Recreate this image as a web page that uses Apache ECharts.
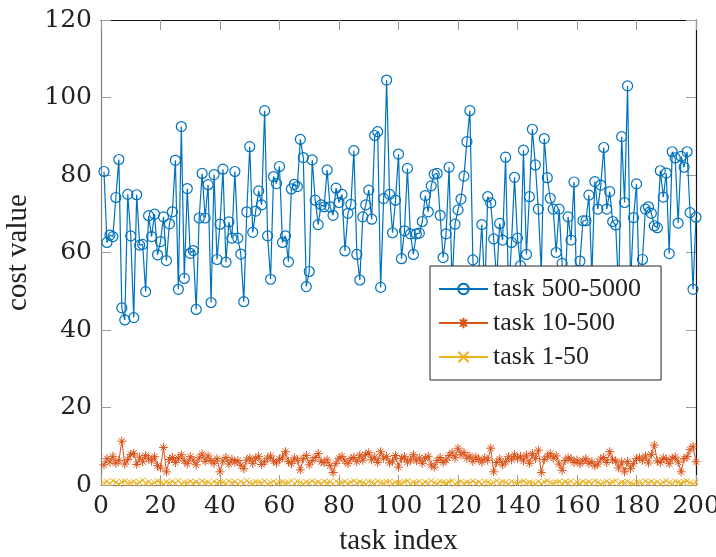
<!DOCTYPE html>
<html>
<head>
<meta charset="UTF-8">
<title>cost value per task</title>
<script src="https://cdn.jsdelivr.net/npm/echarts@6/dist/echarts.min.js"></script>
<style>html,body{margin:0;padding:0;background:#fff;}</style>
</head>
<body>
<div id="main" style="width:716px;height:557px;"></div>
<script>
// values, task index 1..200
// (the few points under the legend box cannot be seen; those are guesses below 56)
const bigTask = [
  80.9, 62.6, 64.5, 64.1, 74.2, 84.0, 45.7, 42.6, 75.0, 64.3,
  43.2, 74.9, 61.9, 62.1, 49.9, 69.5, 64.1, 69.9, 59.4, 62.8,
  69.2, 57.9, 67.4, 70.5, 83.8, 50.5, 92.5, 53.3, 76.5, 59.8,
  60.5, 45.3, 68.9, 80.4, 68.9, 77.5, 47.1, 80.1, 58.2, 67.3,
  81.5, 57.5, 67.9, 63.7, 80.9, 63.7, 59.6, 47.3, 70.5, 87.3,
  65.2, 70.7, 75.9, 72.3, 96.6, 64.3, 53.1, 79.6, 77.8, 82.2,
  62.6, 64.3, 57.6, 76.4, 77.6, 77.0, 89.2, 84.5, 51.2, 55.1,
  83.9, 73.5, 67.2, 72.3, 71.8, 81.3, 71.8, 69.6, 76.6, 72.9,
  75.0, 60.4, 70.1, 72.4, 86.3, 59.5, 52.9, 69.2, 72.3, 76.1,
  68.6, 90.2, 91.2, 51.0, 73.9, 104.5, 75.0, 65.1, 73.5, 85.4,
  58.4, 65.6, 81.7, 64.8, 59.5, 64.8, 65.0, 68.0, 74.7, 70.5,
  77.2, 80.2, 80.4, 69.6, 58.7, 64.8, 82.0, 52.0, 67.3, 71.0,
  73.8, 79.7, 88.6, 96.6, 58.1, 48.0, 55.0, 67.2, 50.0, 74.4,
  72.8, 63.5, 53.0, 67.5, 63.2, 84.6, 49.0, 62.6, 79.4, 63.7,
  56.6, 86.4, 59.5, 74.4, 91.8, 82.6, 71.2, 55.0, 89.4, 79.3,
  74.0, 71.2, 60.0, 71.2, 57.2, 51.0, 69.2, 63.2, 78.2, 47.0,
  57.8, 68.2, 68.2, 74.8, 54.0, 78.3, 71.2, 77.4, 87.1, 71.2,
  75.7, 68.0, 67.1, 50.0, 89.9, 72.9, 103.0, 52.0, 69.0, 77.7,
  49.0, 58.2, 71.2, 71.8, 70.1, 66.9, 66.4, 81.1, 74.3, 80.5,
  59.7, 86.0, 84.4, 67.6, 84.8, 82.0, 86.0, 70.3, 50.5, 69.1
];

const midTask = [
  5.2, 6.8, 5.9, 7.4, 5.6, 6.3, 11.3, 5.4, 6.6, 7.9,
  8.2, 5.3, 7.2, 6.0, 7.6, 6.9, 6.2, 7.3, 5.0, 4.4,
  9.7, 3.4, 6.6, 7.1, 5.8, 6.9, 7.8, 6.2, 5.5, 7.3,
  6.4, 5.2, 7.0, 8.0, 6.1, 7.5, 6.3, 5.6, 6.8, 3.4,
  6.2, 7.1, 5.4, 6.6, 5.9, 6.3, 5.1, 4.2, 6.4, 7.0,
  5.6, 6.8, 7.4, 5.3, 6.0, 6.9, 7.5, 6.2, 5.7, 6.6,
  7.2, 8.6, 6.1, 5.5, 7.0, 6.4, 3.9, 6.8, 7.6, 5.2,
  6.3, 7.1, 8.1, 6.0, 5.8, 6.5, 5.0, 3.2, 5.6, 6.9,
  7.4, 6.2, 5.5, 6.8, 7.1, 6.0, 7.7, 6.4, 7.9, 8.3,
  6.5, 7.2, 5.8, 8.6, 6.9, 7.4, 5.7, 6.2, 7.6, 4.6,
  6.8, 7.3, 5.9, 6.5, 7.8, 6.2, 7.0, 5.6, 6.9, 7.4,
  5.2, 4.6, 6.3, 7.1, 5.8, 6.4, 7.6, 8.3, 7.0, 9.5,
  7.8, 8.4, 6.9, 7.5, 6.1, 7.2, 6.6, 5.9, 7.0, 6.4,
  9.5, 3.4, 5.8, 6.7, 5.2, 6.0, 7.3, 6.5, 7.8, 6.9,
  7.4, 6.2, 7.7, 5.6, 8.1, 6.8, 9.0, 3.2, 6.6, 7.4,
  8.1, 6.9, 7.5, 5.4, 3.8, 6.3, 7.0, 6.7, 5.8, 6.4,
  5.5, 6.2, 6.8, 5.6, 6.0, 4.9, 5.4, 6.7, 7.1, 5.8,
  8.6, 6.5, 6.2, 4.4, 5.9, 3.4, 6.1, 4.2, 5.5, 6.8,
  7.0, 6.4, 7.5, 5.7, 7.9, 10.3, 6.2, 5.8, 7.0, 6.6,
  5.5, 6.9, 7.2, 5.9, 3.4, 6.8, 7.3, 9.1, 10.0, 6.0
];

const smallTask = [
  0.6, 0.9, 0.4, 1.1, 0.7, 0.3, 0.8, 1.0, 0.5, 0.6, 0.9, 0.4, 0.7, 1.2, 0.5, 0.8, 0.3, 0.6, 1.0, 0.7,
  0.4, 0.8, 0.6, 0.9, 0.5, 1.1, 0.3, 0.7, 0.6, 0.9, 0.5, 0.8, 0.4, 1.0, 0.6, 0.7, 0.3, 0.9, 0.5, 0.8,
  0.7, 0.4, 1.0, 0.6, 0.8, 0.3, 0.9, 0.5, 1.1, 0.6, 0.4, 0.8, 0.7, 0.5, 1.0, 0.3, 0.6, 0.9, 0.4, 0.7,
  0.8, 0.5, 0.6, 1.1, 0.4, 0.9, 0.7, 0.3, 0.8, 0.6, 1.0, 0.5, 0.7, 0.4, 0.9, 0.6, 0.8, 0.3, 1.0, 0.5,
  0.6, 0.9, 0.4, 0.7, 1.1, 0.5, 0.8, 0.6, 0.3, 0.9, 0.7, 0.4, 1.0, 0.6, 0.5, 0.8, 0.9, 0.3, 0.7, 0.6,
  0.5, 0.8, 1.0, 0.4, 0.7, 0.6, 0.9, 0.3, 0.8, 0.5, 1.1, 0.6, 0.4, 0.9, 0.7, 0.5, 0.8, 1.0, 0.3, 0.6,
  0.9, 0.4, 0.7, 0.6, 1.0, 0.5, 0.8, 0.3, 0.9, 0.7, 0.4, 0.6, 1.1, 0.5, 0.8, 0.7, 0.3, 0.9, 0.6, 0.4,
  0.8, 1.0, 0.5, 0.7, 0.6, 0.3, 0.9, 0.4, 0.8, 1.1, 0.6, 0.5, 0.7, 0.9, 0.4, 0.8, 0.6, 1.0, 0.3, 0.7,
  0.5, 0.9, 0.6, 0.8, 0.4, 1.0, 0.7, 0.3, 0.6, 0.9, 0.5, 0.8, 1.1, 0.4, 0.7, 0.6, 0.9, 0.5, 0.3, 0.8,
  0.7, 0.4, 1.0, 0.6, 0.9, 0.5, 0.8, 0.3, 0.7, 1.1, 0.6, 0.4, 0.9, 0.7, 0.5, 0.8, 1.0, 0.6, 0.3, 0.7
];

const seriesNames = ['task 500-5000', 'task 10-500', 'task 1-50'];
const seriesColors = ['#0072BD', '#D95319', '#EDB120'];
const xRange = [0, 200, 20];
const yRange = [0, 120, 20];

const font = 'Liberation Serif';
const numFont = 'DejaVu Serif';
const starPath = 'path://M5,0L5,10M0,5L10,5M1.6,1.6L8.4,8.4M1.6,8.4L8.4,1.6';
const crossPath = 'path://M0,0L10,10M0,10L10,0';

function toPoints(arr) {
  return arr.map((v, i) => [i + 1, v]);
}

function frameAxis(pos, range, main) {
  return {
    type: 'value',
    position: pos,
    min: range[0],
    max: range[1],
    interval: range[2],
    splitLine: { show: false },
    axisLine: { show: true, onZero: false, lineStyle: { color: main ? '#7f7f7f' : '#111', width: 1.2 } },
    axisTick: { show: true, inside: true, length: 10, lineStyle: { color: '#9a9a9a', width: 1 } },
    axisLabel: { show: main, fontFamily: numFont, fontSize: 25, color: '#222', margin: 9 }
  };
}

var myChart = echarts.init(document.getElementById('main'));

var xBottom = frameAxis('bottom', xRange, true);
xBottom.name = 'task index';
xBottom.nameLocation = 'middle';
xBottom.nameGap = 42;
xBottom.nameTextStyle = { fontFamily: font, fontSize: 29, color: '#222' };

var yLeft = frameAxis('left', yRange, true);
yLeft.name = 'cost value';
yLeft.nameLocation = 'middle';
yLeft.nameGap = 65;
yLeft.nameTextStyle = { fontFamily: font, fontSize: 29, color: '#222' };

var option = {
  animation: false,
  backgroundColor: '#fff',
  grid: { left: 101, top: 20, right: 20, bottom: 72, containLabel: false, outerBoundsMode: 'none' },
  xAxis: [xBottom, frameAxis('top', xRange, false)],
  yAxis: [yLeft, frameAxis('right', yRange, false)],
  legend: {
    orient: 'vertical',
    left: 430,
    top: 266,
    backgroundColor: '#fff',
    borderColor: '#222',
    borderWidth: 1,
    borderRadius: 0,
    padding: [10, 20, 10, 8],
    itemGap: 8,
    itemWidth: 49,
    itemHeight: 13,
    textStyle: { fontFamily: font, fontSize: 26, color: '#222' },
    data: seriesNames
  },
  series: [
    {
      name: seriesNames[0],
      type: 'line',
      data: toPoints(bigTask),
      symbol: 'circle',
      symbolSize: 10,
      lineStyle: { color: seriesColors[0], width: 1.2 },
      itemStyle: { color: 'rgba(0,0,0,0)', borderColor: seriesColors[0], borderWidth: 1.2 },
      emphasis: { disabled: true }
    },
    {
      name: seriesNames[1],
      type: 'line',
      data: toPoints(midTask),
      symbol: starPath,
      symbolSize: 9,
      symbolKeepAspect: true,
      lineStyle: { color: seriesColors[1], width: 1 },
      itemStyle: { color: 'rgba(0,0,0,0)', borderColor: seriesColors[1], borderWidth: 1 },
      emphasis: { disabled: true }
    },
    {
      name: seriesNames[2],
      type: 'line',
      data: toPoints(smallTask),
      symbol: crossPath,
      symbolSize: 6,
      symbolKeepAspect: true,
      lineStyle: { color: seriesColors[2], width: 1 },
      itemStyle: { color: 'rgba(0,0,0,0)', borderColor: seriesColors[2], borderWidth: 1 },
      emphasis: { disabled: true }
    }
  ]
};

myChart.setOption(option);
</script>
</body>
</html>
